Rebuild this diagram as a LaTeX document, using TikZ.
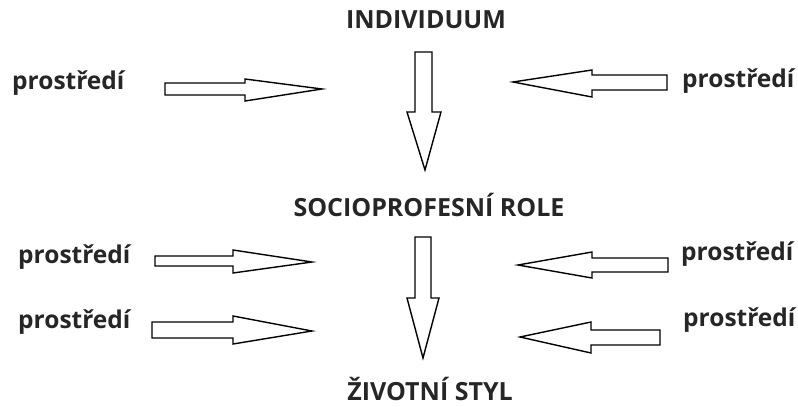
\documentclass[tikz,border=0pt]{standalone}
\usepackage{fontspec}
\setmainfont{Open Sans}
\begin{document}
\begin{tikzpicture}[x=1pt,y=-1pt,
  lbl/.style={font=\bfseries\fontsize{25}{25}\selectfont, inner sep=0pt, text=black!85},
  env/.style={font=\bfseries\fontsize{24.5}{24.5}\selectfont, inner sep=0pt, text=black!85},
  blockarrow/.style={draw=black, line width=1.4pt, fill=white, line join=miter}]
\useasboundingbox (0,0) rectangle (798,407);

% stage labels
\node[lbl] (ind) at (426,20) {INDIVIDUUM};
\node[lbl] (soc) at (429,205) {SOCIOPROFESNÍ ROLE};
\node[lbl] (zs)  at (430,389) {ŽIVOTNÍ STYL};

% environment labels
\node[env, anchor=west] (e1) at (12,83)  {prostředí};
\node[env, anchor=west] (e2) at (682,81) {prostředí};
\node[env, anchor=west] (e3) at (18,257) {prostředí};
\node[env, anchor=west] (e4) at (681,254) {prostředí};
\node[env, anchor=west] (e5) at (18,322) {prostředí};
\node[env, anchor=west] (e6) at (683,320) {prostředí};

% vertical block arrows: shaft x1,x2, top, head start, head x1,x2, tip
\draw[blockarrow] (415,52) -- (432,52) -- (432,112) -- (441,112) -- (425,170)
  -- (407,112) -- (415,112) -- cycle;
\draw[blockarrow] (415,237) -- (431,237) -- (431,298) -- (439,298) -- (423,358)
  -- (407,298) -- (415,298) -- cycle;

% horizontal block arrows pointing right
\draw[blockarrow] (165,83) -- (245,83) -- (245,79) -- (322,89) -- (245,101)
  -- (245,95) -- (165,95) -- cycle;
\draw[blockarrow] (155,256) -- (233,256) -- (233,250) -- (312,262) -- (233,273)
  -- (233,266) -- (155,266) -- cycle;
\draw[blockarrow] (152,322) -- (233,322) -- (233,316) -- (312,331) -- (233,344)
  -- (233,338) -- (152,338) -- cycle;

% horizontal block arrows pointing left
\draw[blockarrow] (667,75) -- (592,75) -- (592,70) -- (513,82) -- (592,97)
  -- (592,90) -- (667,90) -- cycle;
\draw[blockarrow] (668,258) -- (592,258) -- (592,252) -- (518,265) -- (592,278)
  -- (592,272) -- (668,272) -- cycle;
\draw[blockarrow] (660,330) -- (591,330) -- (591,322) -- (520,337) -- (591,353)
  -- (591,345) -- (660,345) -- cycle;
\end{tikzpicture}
\end{document}
